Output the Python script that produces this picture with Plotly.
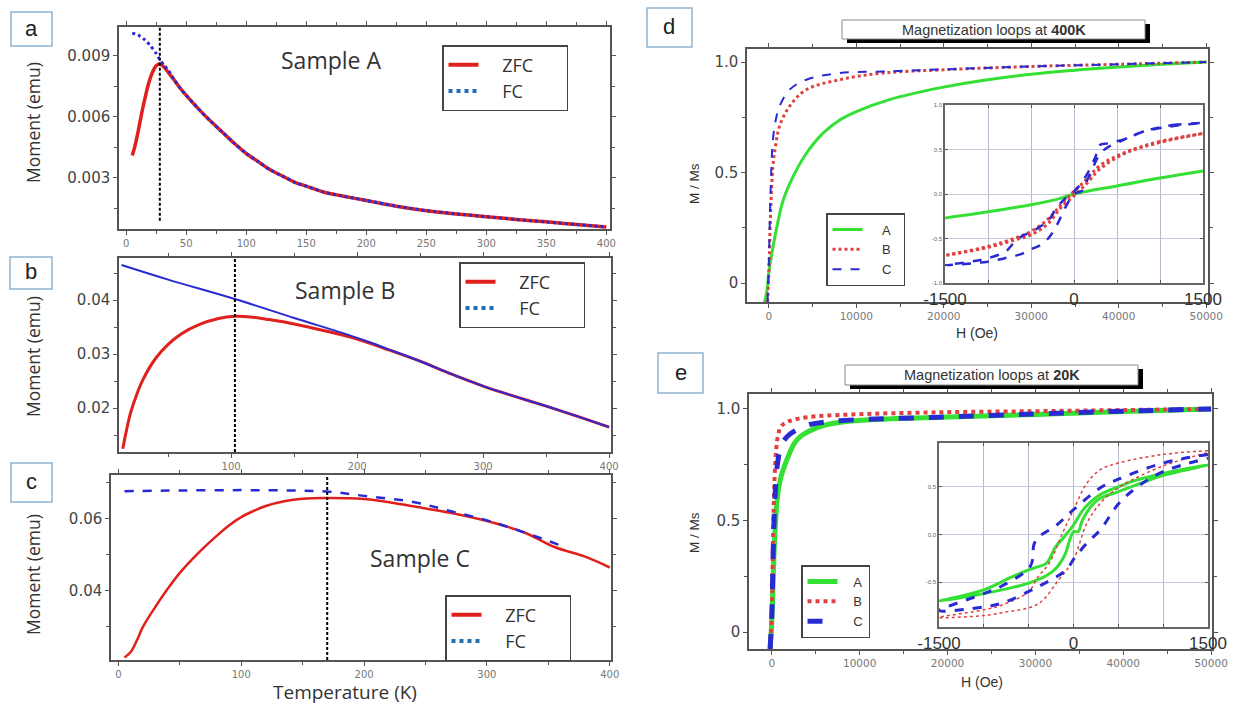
import plotly.graph_objects as go

W, H = 1238, 706

# ---------------- data: panels a-c (Moment vs Temperature) ----------------
T_a_zfc = [5, 7, 10, 13, 16, 19, 22, 25, 28, 32, 36, 40, 45, 50, 60, 70, 80, 90, 100, 110, 120, 130, 140, 150, 165, 180, 200, 225, 250, 275, 300, 325, 350, 375, 400]
M_a_zfc = [0.0041, 0.0045, 0.0053, 0.0062, 0.0070, 0.0077, 0.0082, 0.0085, 0.0086, 0.0084, 0.0081, 0.0078, 0.0074, 0.00705, 0.0064, 0.0058, 0.00525, 0.0047, 0.0042, 0.0038, 0.0034, 0.0031, 0.0028, 0.0026, 0.0023, 0.00212, 0.0019, 0.00162, 0.0014, 0.00124, 0.0011, 0.00097, 0.00085, 0.00072, 0.0006]
T_a_fc = [5, 10, 15, 20, 25, 28, 32, 36, 40, 45, 50, 60, 70, 80, 90, 100, 110, 120, 130, 140, 150, 165, 180, 200, 225, 250, 275, 300, 325, 350, 375, 400]
M_a_fc = [0.0101, 0.0100, 0.0098, 0.0095, 0.0091, 0.0088, 0.0085, 0.0082, 0.0078, 0.0074, 0.00705, 0.0064, 0.0058, 0.00525, 0.0047, 0.0042, 0.0038, 0.0034, 0.0031, 0.0028, 0.0026, 0.0023, 0.00212, 0.0019, 0.00162, 0.0014, 0.00124, 0.0011, 0.00097, 0.00085, 0.00072, 0.0006]
Tb_a = 28

T_b_zfc = [14, 17, 20, 25, 30, 40, 50, 60, 75, 90, 103, 115, 130, 150, 175, 200, 225, 250, 275, 300, 325, 350, 375, 400]
M_b_zfc = [0.0125, 0.016, 0.019, 0.0225, 0.0253, 0.0292, 0.0318, 0.0337, 0.0355, 0.0366, 0.0370, 0.0369, 0.0364, 0.0356, 0.0343, 0.0328, 0.0308, 0.0287, 0.0263, 0.0241, 0.0222, 0.0204, 0.0185, 0.0165]
T_b_fc = [13, 50, 103, 150, 190, 210, 225, 250, 275, 300, 325, 350, 375, 400]
M_b_fc = [0.0465, 0.0438, 0.0402, 0.0367, 0.0338, 0.0322, 0.0309, 0.0287, 0.0263, 0.0241, 0.0222, 0.0204, 0.0185, 0.0165]
Tb_b = 103

T_c_zfc = [5, 10, 15, 20, 30, 40, 50, 65, 80, 90, 100, 110, 120, 135, 150, 168, 200, 230, 240, 270, 300, 330, 355, 380, 400]
M_c_zfc = [0.0215, 0.023, 0.0262, 0.0300, 0.0355, 0.0405, 0.0450, 0.0505, 0.0553, 0.0582, 0.0605, 0.0622, 0.0636, 0.0649, 0.0656, 0.0658, 0.0655, 0.0641, 0.0635, 0.0617, 0.0594, 0.0563, 0.0522, 0.0495, 0.0465]
T_c_fc = [5, 50, 100, 140, 170, 200, 240, 270, 300, 330, 365]
M_c_fc = [0.0677, 0.0679, 0.0680, 0.0679, 0.0676, 0.0664, 0.0647, 0.0622, 0.0596, 0.0563, 0.0520]
Tb_c = 170

# ---------------- data: panel d (400 K) ----------------
Hd_A = [-500, -200, 0, 460, 1000, 1600, 2750, 4280, 6190, 8100, 10000, 13800, 19500, 25000, 30000, 35000, 40000, 45000, 50000]
Md_A = [-0.086, -0.03, 0.05, 0.16, 0.27, 0.37, 0.48, 0.586, 0.678, 0.738, 0.776, 0.83, 0.883, 0.92, 0.945, 0.963, 0.978, 0.99, 1.0]
Hd_B = [-150, 0, 200, 460, 800, 1220, 2370, 4280, 8100, 13000, 20000, 30000, 40000, 50000]
Md_B = [-0.086, 0.05, 0.32, 0.525, 0.63, 0.71, 0.80, 0.875, 0.92, 0.95, 0.965, 0.98, 0.99, 1.0]
Hd_C = [-150, 0, 200, 460, 800, 1220, 2370, 4280, 8100, 13000, 20000, 30000, 40000, 50000]
Md_C = [-0.086, 0.1, 0.42, 0.647, 0.74, 0.80, 0.875, 0.92, 0.95, 0.957, 0.967, 0.98, 0.99, 1.0]

# inset d (low field loops)
hd_A = [-1500, -1000, -500, -200, -100, 0, 100, 200, 500, 1000, 1500]
md_A = [-0.27, -0.20, -0.12, -0.06, -0.03, 0.0, 0.02, 0.04, 0.09, 0.18, 0.26]
hd_B = [1500, 1000, 600, 300, 150, 0, -150, -300, -500, -700, -1000, -1500, -1000, -700, -500, -300, -150, 0, 150, 300, 600, 1000, 1500]
md_B = [0.68, 0.59, 0.47, 0.32, 0.17, 0.03, -0.12, -0.28, -0.42, -0.50, -0.59, -0.69, -0.60, -0.52, -0.46, -0.33, -0.15, -0.02, 0.12, 0.28, 0.46, 0.58, 0.68]
hd_C = [1500, 1200, 1000, 800, 600, 400, 300, 250, 150, 50, 0, -100, -200, -300, -400, -500, -600, -700, -800, -1000, -1200, -1500,
        -1200, -1000, -800, -600, -500, -400, -300, -200, -100, 0, 100, 150, 200, 300, 400, 500, 600, 800, 1000, 1200, 1500]
md_C = [0.80, 0.78, 0.75, 0.70, 0.62, 0.57, 0.55, 0.42, 0.22, 0.08, 0.03, -0.05, -0.15, -0.30, -0.37, -0.43, -0.47, -0.55, -0.65, -0.72, -0.76, -0.80,
        -0.78, -0.76, -0.72, -0.67, -0.62, -0.58, -0.50, -0.35, -0.15, 0.0, 0.04, 0.15, 0.25, 0.45, 0.53, 0.57, 0.62, 0.70, 0.74, 0.77, 0.80]

# ---------------- data: panel e (20 K) ----------------
He_A = [-200, 0, 200, 400, 650, 1000, 1400, 2000, 2540, 3200, 4050, 5950, 9730, 19200, 30000, 40000, 50000]
Me_A = [-0.076, 0.05, 0.30, 0.48, 0.61, 0.69, 0.74, 0.80, 0.845, 0.875, 0.897, 0.927, 0.948, 0.963, 0.975, 0.988, 1.0]
He_B = [-200, 0, 150, 300, 500, 700, 1020, 1500, 2150, 4000, 9000, 19000, 30000, 40000, 50000]
Me_B = [-0.076, 0.10, 0.45, 0.68, 0.82, 0.88, 0.92, 0.937, 0.948, 0.963, 0.975, 0.985, 0.99, 0.995, 1.0]
He_C = [-200, 0, 150, 300, 500, 700, 1020, 1500, 2150, 4050, 7000, 19000, 30000, 40000, 50000]
Me_C = [-0.076, 0.08, 0.35, 0.55, 0.70, 0.77, 0.83, 0.865, 0.89, 0.927, 0.945, 0.963, 0.978, 0.99, 1.0]

he_A = [1500, 1000, 700, 500, 300, 200, 100, 0, -100, -200, -300, -400, -500, -700, -1000, -1500,
        -1000, -700, -500, -300, -200, -100, 0, 50, 100, 200, 300, 500, 700, 1000, 1500]
me_A = [0.73, 0.64, 0.57, 0.50, 0.42, 0.35, 0.25, 0.10, -0.02, -0.13, -0.30, -0.34, -0.37, -0.45, -0.58, -0.70,
        -0.62, -0.56, -0.51, -0.43, -0.36, -0.22, 0.03, 0.03, 0.15, 0.30, 0.38, 0.45, 0.52, 0.62, 0.73]
he_B = [1500, 1000, 500, 300, 150, 0, -120, -270, -400, -500, -800, -1000, -1500,
        -1000, -800, -400, -160, 0, 150, 300, 500, 1000, 1500]
me_B = [0.88, 0.84, 0.75, 0.68, 0.54, 0.26, 0.02, -0.30, -0.45, -0.60, -0.74, -0.79, -0.87,
        -0.85, -0.82, -0.73, -0.47, -0.26, 0.12, 0.33, 0.49, 0.72, 0.86]
he_C = [1500, 1000, 500, 300, 0, -200, -380, -440, -480, -800, -1000, -1500,
        -1000, -800, -380, -80, 0, 150, 300, 500, 700, 1000, 1500]
me_C = [0.84, 0.75, 0.58, 0.49, 0.26, 0.09, -0.02, -0.10, -0.33, -0.54, -0.62, -0.80,
        -0.76, -0.72, -0.54, -0.37, -0.26, -0.09, 0.05, 0.32, 0.49, 0.66, 0.80]

# ---------------- tick labels ----------------
xt_a = [0, 50, 100, 150, 200, 250, 300, 350, 400]
yt_a = [0.003, 0.006, 0.009]
xt_b = [100, 200, 300, 400]
yt_b = [0.02, 0.03, 0.04]
xt_c = [0, 100, 200, 300, 400]
yt_c = [0.04, 0.06]
xt_de = [0, 10000, 20000, 30000, 40000, 50000]
xt_de_text = ["0", "10000", "20000", "30000", "40000", "50000"]
yt_de = [0, 0.5, 1.0]
yt_de_text = ["0", "0.5", "1.0"]
xt_ins = [-1500, -1000, -500, 0, 500, 1000, 1500]
xt_ins_text = ["-1500", "", "", "0", "", "", "1500"]
yt_ins_d = [-1.0, -0.5, 0.0, 0.5, 1.0]
yt_ins_d_text = ["-1.0", "-0.5", "0.0", "0.5", "1.0"]
yt_ins_e = [-0.5, 0.0, 0.5]
yt_ins_e_text = ["-0.5", "0.0", "0.5"]

RED = "#e0201c"
BLUE = "#2a2ad2"
LEGBLUE = "#1f6fb6"
GREEN = "#33e033"
LRED = "#e04040"
NB = "\u00a0"

def dx(a, b):
    return [a / W, b / W]

def dy(t, b):
    return [1 - b / H, 1 - t / H]

def px(x):
    return x / W

def py(y):
    return 1 - y / H

fig = go.Figure()

# ---- panel a ----
fig.add_trace(go.Scatter(x=T_a_zfc, y=M_a_zfc, mode="lines", line=dict(color=RED, width=3.5, shape="spline", smoothing=0.8),
                         xaxis="x", yaxis="y", showlegend=False))
fig.add_trace(go.Scatter(x=T_a_fc, y=M_a_fc, mode="lines", line=dict(color=BLUE, width=3, dash="dot", shape="spline", smoothing=0.8),
                         xaxis="x", yaxis="y", showlegend=False))
# ---- panel b ----
fig.add_trace(go.Scatter(x=T_b_zfc, y=M_b_zfc, mode="lines", line=dict(color=RED, width=3, shape="spline"),
                         xaxis="x2", yaxis="y2", showlegend=False))
fig.add_trace(go.Scatter(x=T_b_fc, y=M_b_fc, mode="lines", line=dict(color=BLUE, width=2, shape="spline"),
                         xaxis="x2", yaxis="y2", showlegend=False))
# ---- panel c ----
fig.add_trace(go.Scatter(x=T_c_zfc, y=M_c_zfc, mode="lines", line=dict(color=RED, width=2.5, shape="spline"),
                         xaxis="x3", yaxis="y3", showlegend=False))
fig.add_trace(go.Scatter(x=T_c_fc, y=M_c_fc, mode="lines", line=dict(color=BLUE, width=2.5, dash="dash", shape="spline"),
                         xaxis="x3", yaxis="y3", showlegend=False))

# legends a-c (style-only entries)
for leg, xa, ya in [("legend", "x", "y"), ("legend2", "x2", "y2"), ("legend3", "x3", "y3")]:
    fig.add_trace(go.Scatter(x=[None], y=[None], mode="lines", name=NB * 4 + "ZFC" + NB * 6, line=dict(color=RED, width=4),
                             xaxis=xa, yaxis=ya, legend=leg))
    fig.add_trace(go.Scatter(x=[None], y=[None], mode="lines", name=NB * 4 + "FC", line=dict(color=LEGBLUE, width=4, dash="dot"),
                             xaxis=xa, yaxis=ya, legend=leg))

# ---- panel d ----
fig.add_trace(go.Scatter(x=Hd_A, y=Md_A, mode="lines", line=dict(color=GREEN, width=3, shape="spline"),
                         xaxis="x4", yaxis="y4", name=NB * 4 + "A" + NB * 2, legend="legend4"))
fig.add_trace(go.Scatter(x=Hd_B, y=Md_B, mode="lines", line=dict(color=LRED, width=3, dash="dot", shape="spline"),
                         xaxis="x4", yaxis="y4", name=NB * 4 + "B", legend="legend4"))
fig.add_trace(go.Scatter(x=Hd_C, y=Md_C, mode="lines", line=dict(color=BLUE, width=2, dash="dash", shape="spline"),
                         xaxis="x4", yaxis="y4", name=NB * 4 + "C", legend="legend4"))
# ---- panel e ----
fig.add_trace(go.Scatter(x=He_A, y=Me_A, mode="lines", line=dict(color=GREEN, width=5, shape="spline"),
                         xaxis="x5", yaxis="y5", name=NB * 3 + "A", legend="legend5"))
fig.add_trace(go.Scatter(x=He_B, y=Me_B, mode="lines", line=dict(color=LRED, width=4, dash="dot", shape="spline"),
                         xaxis="x5", yaxis="y5", name=NB * 3 + "B", legend="legend5"))
fig.add_trace(go.Scatter(x=He_C, y=Me_C, mode="lines", line=dict(color=BLUE, width=5, dash="dash", shape="spline"),
                         xaxis="x5", yaxis="y5", name=NB * 3 + "C", legend="legend5"))
# ---- inset d ----
fig.add_trace(go.Scatter(x=hd_A, y=md_A, mode="lines", line=dict(color=GREEN, width=3, shape="spline"),
                         xaxis="x6", yaxis="y6", showlegend=False))
fig.add_trace(go.Scatter(x=hd_B, y=md_B, mode="lines", line=dict(color=LRED, width=3, dash="dot", shape="spline"),
                         xaxis="x6", yaxis="y6", showlegend=False))
fig.add_trace(go.Scatter(x=hd_C, y=md_C, mode="lines", line=dict(color=BLUE, width=2.5, dash="dash", shape="spline"),
                         xaxis="x6", yaxis="y6", showlegend=False))
# ---- inset e ----
fig.add_trace(go.Scatter(x=he_A, y=me_A, mode="lines", line=dict(color=GREEN, width=3, shape="spline"),
                         xaxis="x7", yaxis="y7", showlegend=False))
fig.add_trace(go.Scatter(x=he_B, y=me_B, mode="lines", line=dict(color=LRED, width=1.5, dash="dot", shape="spline"),
                         xaxis="x7", yaxis="y7", showlegend=False))
fig.add_trace(go.Scatter(x=he_C, y=me_C, mode="lines", line=dict(color=BLUE, width=3, dash="dash", shape="spline"),
                         xaxis="x7", yaxis="y7", showlegend=False))

AX = dict(showline=True, linecolor="#555", linewidth=1.5, mirror="ticks", ticks="outside", ticklen=4,
          tickcolor="#555", showgrid=False, zeroline=False, fixedrange=True, automargin=False)
SMALL = dict(family="DejaVu Sans", size=10, color="#777")
BIG = dict(family="DejaVu Sans", size=15, color="#444")
BIGR = dict(family="DejaVu Sans", size=15, color="#444")

layout = dict(
    width=W, height=H, margin=dict(l=0, r=0, t=0, b=0, autoexpand=False),
    paper_bgcolor="white", plot_bgcolor="white",
    font=dict(family="Open Sans", color="#333"),
    xaxis=dict(AX, domain=dx(119, 610), anchor="y", range=[-6, 403], tickvals=xt_a, tickfont=SMALL,
               minor=dict(ticks="outside", dtick=25, ticklen=3, tickcolor="#555")),
    yaxis=dict(AX, domain=dy(27, 229), anchor="x", range=[0.0005, 0.0104], tickvals=yt_a, tickformat=".3f", tickfont=BIG,
               minor=dict(ticks="outside", dtick=0.0015, tick0=0, ticklen=3, tickcolor="#555")),
    xaxis2=dict(AX, domain=dx(119, 611), anchor="y2", range=[11, 401.5], tickvals=xt_b, tickfont=SMALL,
                minor=dict(ticks="outside", dtick=50, ticklen=3, tickcolor="#555")),
    yaxis2=dict(AX, domain=dy(258, 452), anchor="x2", range=[0.0119, 0.0478], tickvals=yt_b, tickformat=".2f", tickfont=BIG,
                minor=dict(ticks="outside", dtick=0.005, tick0=0, ticklen=3, tickcolor="#555")),
    xaxis3=dict(AX, domain=dx(111, 611), anchor="y3", range=[-6, 401], tickvals=xt_c, tickfont=SMALL,
                minor=dict(ticks="outside", dtick=50, ticklen=3, tickcolor="#555")),
    yaxis3=dict(AX, domain=dy(475, 660), anchor="x3", range=[0.0208, 0.0722], tickvals=yt_c, tickformat=".2f", tickfont=BIG,
                minor=dict(ticks="outside", dtick=0.01, tick0=0, ticklen=3, tickcolor="#555")),
    xaxis4=dict(AX, domain=dx(747, 1208), anchor="y4", range=[-2500, 50200], tickvals=xt_de, ticktext=xt_de_text,
                tickfont=dict(SMALL, size=10.5),
                minor=dict(ticks="outside", dtick=5000, ticklen=3, tickcolor="#555")),
    yaxis4=dict(AX, domain=dy(49, 302), anchor="x4", range=[-0.086, 1.059], tickvals=yt_de, ticktext=yt_de_text, tickfont=BIGR,
                minor=dict(ticks="outside", dtick=0.25, tick0=0, ticklen=3, tickcolor="#555")),
    xaxis5=dict(AX, domain=dx(749, 1212), anchor="y5", range=[-2600, 50100], tickvals=xt_de, ticktext=xt_de_text,
                tickfont=dict(SMALL, size=10.5),
                minor=dict(ticks="outside", dtick=5000, ticklen=3, tickcolor="#555")),
    yaxis5=dict(AX, domain=dy(394, 649), anchor="x5", range=[-0.076, 1.067], tickvals=yt_de, ticktext=yt_de_text, tickfont=BIGR,
                minor=dict(ticks="outside", dtick=0.25, tick0=0, ticklen=3, tickcolor="#555")),
    xaxis6=dict(AX, domain=dx(945, 1203), anchor="y6", range=[-1500, 1500], tickvals=xt_ins, ticktext=xt_ins_text,
                ticks="inside", ticklen=3, showgrid=True, gridcolor="#b8bccd", gridwidth=1, linecolor="#666",
                tickfont=dict(family="Liberation Sans", size=17, color="#333"), ticklabelstandoff=0),
    yaxis6=dict(AX, domain=dy(105, 283), anchor="x6", range=[-1, 1], tickvals=yt_ins_d, ticktext=yt_ins_d_text,
                ticks="inside", ticklen=3, showgrid=True, gridcolor="#c4c8dc", gridwidth=1, linecolor="#666",
                tickfont=dict(family="Liberation Sans", size=6, color="#666")),
    xaxis7=dict(AX, domain=dx(939, 1208), anchor="y7", range=[-1500, 1500], tickvals=xt_ins, ticktext=xt_ins_text,
                ticks="inside", ticklen=3, showgrid=True, gridcolor="#b8bccd", gridwidth=1, linecolor="#666",
                tickfont=dict(family="Liberation Sans", size=17, color="#333"), ticklabelstandoff=0),
    yaxis7=dict(AX, domain=dy(443, 627), anchor="x7", range=[-0.97, 0.96], tickvals=yt_ins_e, ticktext=yt_ins_e_text,
                ticks="inside", ticklen=3, showgrid=True, gridcolor="#c4c8dc", gridwidth=1, linecolor="#666",
                tickfont=dict(family="Liberation Sans", size=6, color="#666")),
)

LEG = dict(bgcolor="white", bordercolor="#444", borderwidth=1.5, xanchor="left", yanchor="top",
           font=dict(family="Open Sans", size=18, color="#333"), tracegroupgap=0)
layout["legend"] = dict(LEG, x=px(442), y=py(45))
layout["legend2"] = dict(LEG, x=px(459), y=py(262))
layout["legend3"] = dict(LEG, x=px(445), y=py(595))
layout["legend4"] = dict(LEG, x=px(826), y=py(213), font=dict(family="Liberation Sans", size=13, color="#333"))
layout["legend5"] = dict(LEG, x=px(801), y=py(565), font=dict(family="Liberation Sans", size=13, color="#333"))

fig.update_layout(**layout)

shapes = []
# Blocking-temperature dashed lines
shapes.append(dict(type="line", xref="x", yref="y", x0=Tb_a, x1=Tb_a, y0=0.0009, y1=0.0104,
                   line=dict(color="black", width=2, dash="3px,2px")))
shapes.append(dict(type="line", xref="x2", yref="y2", x0=Tb_b, x1=Tb_b, y0=0.0119, y1=0.0478,
                   line=dict(color="black", width=2, dash="3px,2px")))
shapes.append(dict(type="line", xref="x3", yref="y3", x0=Tb_c, x1=Tb_c, y0=0.0208, y1=0.0722,
                   line=dict(color="black", width=2, dash="3px,2px")))

# panel label boxes
label_boxes = [("a", 11, 12, 52, 46), ("b", 10, 257, 52, 289), ("c", 11, 463, 52, 502),
               ("d", 647, 8, 692, 47), ("e", 658, 353, 703, 393)]
annotations = []

def ann(text, x, y, size, family="Open Sans", angle=0, color="#333"):
    return dict(text=text, xref="paper", yref="paper", x=px(x), y=py(y), xanchor="center", yanchor="middle",
                showarrow=False, textangle=angle, font=dict(family=family, size=size, color=color))

for lab, x0, y0, x1, y1 in label_boxes:
    shapes.append(dict(type="rect", xref="paper", yref="paper", x0=px(x0), x1=px(x1), y0=py(y1), y1=py(y0),
                       line=dict(color="#8fb3d1", width=1.5), fillcolor="white"))
    annotations.append(ann(lab, (x0 + x1) / 2, (y0 + y1) / 2 - 1, 22, family="Liberation Sans", color="#222"))

# title boxes with shadow
for (x0, y0, x1, y1, txt) in [(842, 20, 1145, 39, "Magnetization loops at <b>400K</b>"),
                              (845, 365, 1138, 385, "Magnetization loops at <b>20K</b>")]:
    shapes.append(dict(type="rect", xref="paper", yref="paper", x0=px(x0 + 5), x1=px(x1 + 5), y0=py(y1 + 4), y1=py(y0 + 4),
                       line=dict(width=0), fillcolor="black"))
    shapes.append(dict(type="rect", xref="paper", yref="paper", x0=px(x0), x1=px(x1), y0=py(y1), y1=py(y0),
                       line=dict(color="#888", width=1), fillcolor="white"))
    annotations.append(ann(txt, (x0 + x1) / 2, (y0 + y1) / 2, 14.5, family="Liberation Sans"))

# sample names
for txt, x, y in [("Sample A", 331, 60), ("Sample B", 345, 290), ("Sample C", 420, 558)]:
    annotations.append(ann(txt, x, y, 23))

# axis titles
for x, y in [(33, 123), (33, 357), (33, 575)]:
    annotations.append(ann("Moment (emu)", x, y, 17.5, angle=-90))
annotations.append(ann("Temperature (K)", 345, 692, 19))
for x, y in [(694, 183), (694, 532)]:
    annotations.append(ann("M / Ms", x, y, 13.5, family="Liberation Sans", angle=-90))
for x, y in [(977, 333), (982, 682)]:
    annotations.append(ann("H (Oe)", x, y, 14, family="Liberation Sans"))

fig.update_layout(shapes=shapes, annotations=annotations)
fig.write_html("out.html")
